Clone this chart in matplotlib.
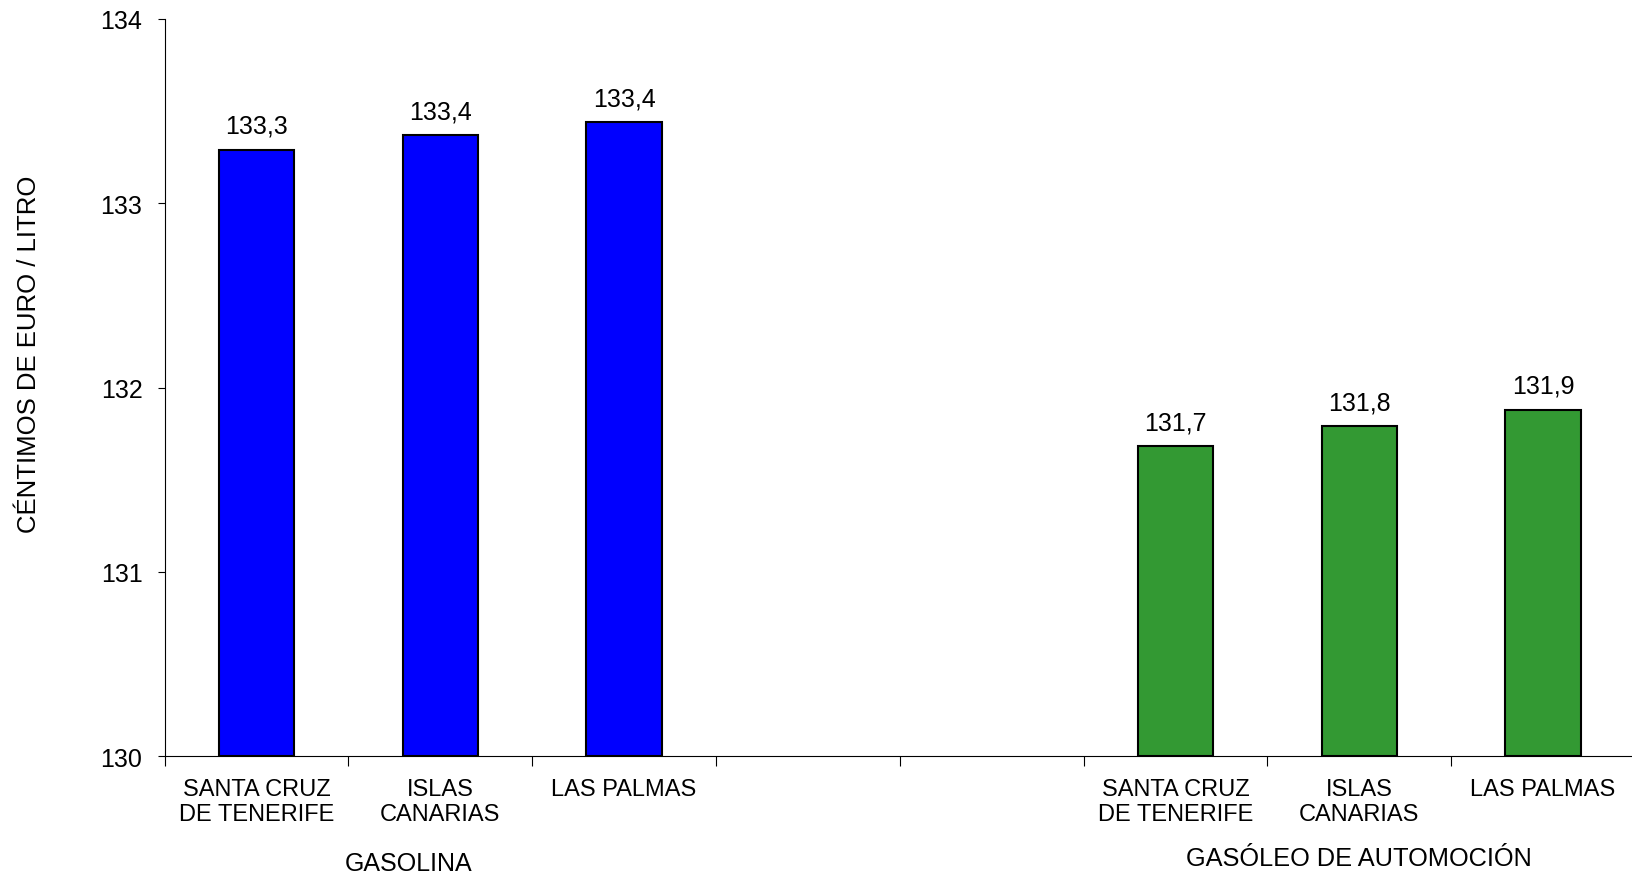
import matplotlib
matplotlib.use("Agg")
import matplotlib.pyplot as plt
from matplotlib.transforms import blended_transform_factory

# ---- data ----
categories = ["SANTA CRUZ\nDE TENERIFE", "ISLAS\nCANARIAS", "LAS PALMAS"]
gasolina = [133.29, 133.37, 133.44]
gasoleo = [131.68, 131.79, 131.88]
gasolina_labels = ["133,3", "133,4", "133,4"]
gasoleo_labels = ["131,7", "131,8", "131,9"]
group_names = ["GASOLINA", "GASÓLEO DE AUTOMOCIÓN"]
y_ticks = [130, 131, 132, 133, 134]
y_label = "CÉNTIMOS DE EURO / LITRO"

plt.rcParams['font.family'] = ['Liberation Sans', 'DejaVu Sans']

W, H = 1633, 879
fig = plt.figure(figsize=(W / 100, H / 100), dpi=100)
ax = fig.add_axes([164.6 / W, 1 - 757.2 / H, 8 * 183.8 / W, (757.2 - 19.8) / H])

x_gas = [0, 1, 2]
x_die = [5, 6, 7]
bw = 0.41
ax.bar(x_gas, [v - 130 for v in gasolina], bottom=130, width=bw,
       color="#0000FF", edgecolor="black", linewidth=1.5, zorder=3)
ax.bar(x_die, [v - 130 for v in gasoleo], bottom=130, width=bw,
       color="#339933", edgecolor="black", linewidth=1.5, zorder=3)

for xs, vals, labs in [(x_gas, gasolina, gasolina_labels), (x_die, gasoleo, gasoleo_labels)]:
    for x, v, l in zip(xs, vals, labs):
        ax.annotate(l, (x, v), xytext=(0, 8.5), textcoords="offset points",
                    ha="center", va="bottom", fontsize=18)

ax.set_xlim(-0.5, 7.5)
ax.set_ylim(130, 134)
ax.set_yticks(y_ticks)
ax.set_yticklabels([str(t) for t in y_ticks])
ax.tick_params(axis="y", length=5, width=0.8, pad=11, labelsize=18, direction="out")

ax.set_xticks(x_gas + x_die)
ax.set_xticklabels(categories + categories, fontsize=17, linespacing=1.2)
ax.tick_params(axis="x", which="major", length=0, pad=15.5)
ax.set_xticks([i - 0.5 for i in range(9)], minor=True)
ax.tick_params(axis="x", which="minor", length=7, width=0.8, direction="out")

for s in ["top", "right"]:
    ax.spines[s].set_visible(False)
for s in ["left", "bottom"]:
    ax.spines[s].set_linewidth(0.8)
    ax.spines[s].set_color("black")

tr = blended_transform_factory(ax.transData, ax.transAxes)
ax.text(0.83, -0.1448, group_names[0], transform=tr, ha="center", va="center", fontsize=18)
ax.text(6.0, -0.138, group_names[1], transform=tr, ha="center", va="center", fontsize=18.3)

fig.text(29 / W, 1 - 354 / H, y_label, rotation=90, ha="center", va="center", fontsize=18.5)

fig.savefig("out.png", dpi=100)
